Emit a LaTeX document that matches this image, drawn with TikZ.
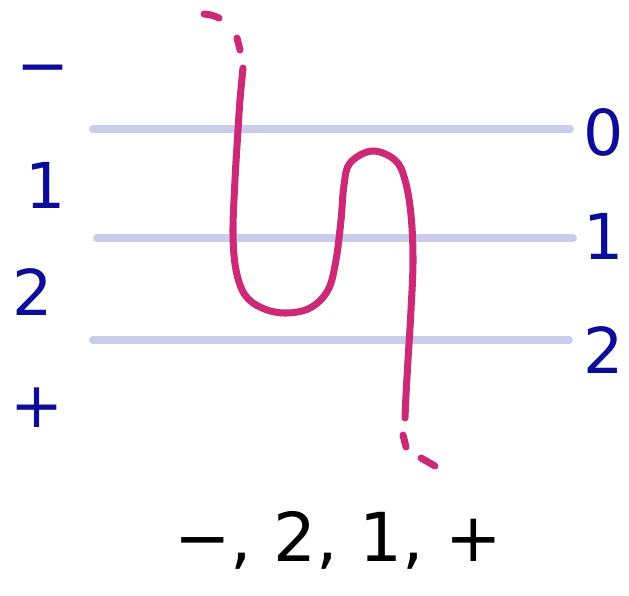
\documentclass[tikz,border=0pt]{standalone}
\usepackage{fontspec}
\setmainfont{DejaVu Sans}
\usepackage{xcolor}
\usepackage{tikz}
\usetikzlibrary{positioning, calc}

\definecolor{lanecol}{RGB}{203,203,234}
\definecolor{strandcol}{RGB}{204,41,120}
\definecolor{labcol}{RGB}{12,12,154}

\tikzset{
  lane/.style={line width=5.7pt, lanecol, line cap=round},
  strand/.style={line width=5pt, strandcol, line cap=round, line join=round},
  lab/.style={labcol, font=\fontsize{45}{48}\selectfont, inner sep=0pt},
}

\begin{document}
\begin{tikzpicture}[x=0.025cm, y=-0.025cm]
          \useasboundingbox (0,0) rectangle (629,595);

          % the three levels
          \draw[lane] (93,129) -- (570,129);
          \draw[lane] (97,238) -- (573,238);
          \draw[lane] (93,340) -- (569,340);

          % labels on the left
          \node[lab] (lminus) at (43,76) {−};
          \node[lab] (lone) at (46,185) {1};
          \node[lab] (ltwo) at (33,292) {2};
          \node[lab] (lplus) at (37,408) {+};

          % labels on the right
          \node[lab] (rzero) at (604,132) {0};
          \node[lab] (rone) at (604,236) {1};
          \node[lab] (rtwo) at (604,350) {2};

          % the strand
          \draw[strand] (204,14) .. controls (212,15) .. (219,18);
          \draw[strand] (237,38) -- (240,50);
          \draw[strand] plot[smooth, tension=0.6] coordinates {
            (243,68) (240,100) (238,130) (235,180) (233,233) (236,270)
            (245,295) (262,308) (285,313) (310,308) (328,290) (336,260)
            (341,220) (344,185) (350,163) (372,151) (395,160) (405,180)
            (411,215) (413,260) (411,310) (408,360) (406,395) (405,418)};
          \draw[strand] (403,435) -- (406,447);
          \draw[strand] (421,458) -- (435,466);

          \node[font=\fontsize{48}{50}\selectfont, inner sep=0pt] (order) at (338,540) {−, 2, 1, +};
        \end{tikzpicture}
\end{document}
